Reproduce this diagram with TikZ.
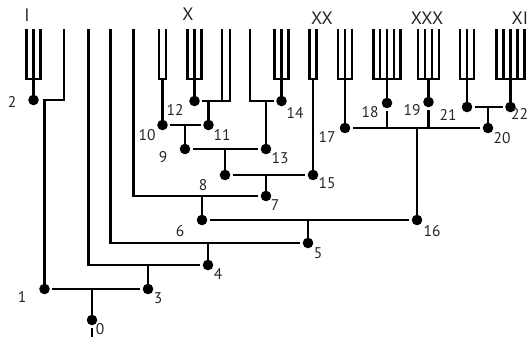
\documentclass[tikz,border=0pt]{standalone}
\usepackage{fontspec}
\setmainfont{PT Sans}
\newcommand{\mycomb}[4]{% #1 dot, #2 left prong x, #3 right prong x, #4 inner prongs
  \draw (#1.center) -- (#1.center |- 0,79);
  \draw[prong] (#2,29) -- (#2,79) -- (#3,79) -- (#3,29);
  \foreach \px in {#4} {\draw[prong] (\px,79) -- (\px,29);}
}
\begin{document}
\begin{tikzpicture}[x=1pt,y=-1pt,line width=2.9pt,
  prong/.style={line width=2.3pt},
  dot/.style={circle,fill=black,inner sep=0pt,minimum size=10.6pt,outer sep=2.6pt},
  lab/.style={font=\fontsize{15.5}{18}\selectfont,text=black!85,inner sep=0pt},
  rom/.style={font=\fontsize{18}{20}\selectfont,text=black!85,inner sep=0pt}]
\useasboundingbox (0,0) rectangle (530,340);
% dots
\node[dot] (n0) at (92,320) {};
\node[dot] (n1) at (44.5,289) {};
\node[dot] (n2) at (33.5,100) {};
\node[dot] (n3) at (148,289) {};
\node[dot] (n4) at (208,265) {};
\node[dot] (n5) at (308,243) {};
\node[dot] (n6) at (202,220) {};
\node[dot] (n7) at (266,196) {};
\node[dot] (n8) at (225,175) {};
\node[dot] (n9) at (185,149) {};
\node[dot] (n10) at (162.5,125) {};
\node[dot] (n11) at (208.5,125) {};
\node[dot] (n12) at (194.5,101) {};
\node[dot] (n13) at (266,149) {};
\node[dot] (n14) at (281.5,101) {};
\node[dot] (n15) at (313,175) {};
\node[dot] (n16) at (417,220) {};
\node[dot] (n17) at (345,128) {};
\node[dot] (n18) at (387,103) {};
\node[dot] (n19) at (428.5,102) {};
\node[dot] (n20) at (488,128) {};
\node[dot] (n21) at (467,107) {};
\node[dot] (n22) at (510.5,107) {};
% combs
\mycomb{n2}{26.5}{40.5}{33.5}
\mycomb{n10}{159}{166}{}
\mycomb{n12}{187.5}{201.5}{194.5}
\mycomb{n14}{274.5}{288.5}{281.5}
\mycomb{n15}{309.5}{316.5}{}
\mycomb{n17}{338}{352}{345}
\mycomb{n18}{373.4}{400.6}{380.2,387,393.8}
\mycomb{n19}{418}{439}{425,432}
\mycomb{n21}{460}{474}{467}
\mycomb{n22}{496.5}{524.5}{503.5,510.5,517.5}
% tree
\draw (92,327.5) -- (92,337);
\draw (n0.center) -- (n0.center |- n1);
\draw (n1) -- (n3);
\draw (n1.center) -- (44.5,100) -- (64,100) -- (64,29);
\draw (n3.center) -- (n3.center |- n4);
\draw (88.5,29) -- (88.5,265) -- (n4);
\draw (n4.center) -- (n4.center |- n5);
\draw (110.5,29) -- (110.5,243) -- (n5);
\draw (n5.center) -- (n5.center |- n6);
\draw (n6) -- (n16);
\draw (n6.center) -- (n6.center |- n7);
\draw (133.5,29) -- (133.5,196) -- (n7);
\draw (n7.center) -- (n7.center |- n8);
\draw (n8) -- (n15);
\draw (n8.center) -- (n8.center |- n9);
\draw (n9) -- (n13);
\draw (n9.center) -- (n9.center |- n10);
\draw (n10) -- (n11);
\draw (n11.center) -- (n11.center |- n12);
\draw (n12) -- (230,101) -- (230,29);
\draw (222,101) -- (222,29);
\draw (n13.center) -- (n13.center |- n14);
\draw (250,29) -- (250,101) -- (n14);
\draw (n16.center) -- (n16.center |- n17);
\draw (n17) -- (n20);
\draw (n18) -- (n18 |- n17);
\draw (n19) -- (n19 |- n17);
\draw (n20.center) -- (n20.center |- n21);
\draw (n21) -- (n22);
% labels
\node[lab] (l0) at (100,329) {0};
\node[lab] (l1) at (22,297) {1};
\node[lab] (l2) at (12,102) {2};
\node[lab] (l3) at (158,298) {3};
\node[lab] (l4) at (218,274) {4};
\node[lab] (l5) at (318,253) {5};
\node[lab] (l6) at (180,231) {6};
\node[lab] (l7) at (275,205) {7};
\node[lab] (l8) at (203,185) {8};
\node[lab] (l9) at (163,157) {9};
\node[lab] (l10) at (147,135) {10};
\node[lab] (l11) at (222,135) {11};
\node[lab] (l12) at (175,110) {12};
\node[lab] (l13) at (280,158) {13};
\node[lab] (l14) at (295,113) {14};
\node[lab] (l15) at (327,183) {15};
\node[lab] (l16) at (432,231) {16};
\node[lab] (l17) at (327,137) {17};
\node[lab] (l18) at (370,112) {18};
\node[lab] (l19) at (412,110) {19};
\node[lab] (l20) at (502,138) {20};
\node[lab] (l21) at (448,115) {21};
\node[lab,anchor=east] (l22) at (529.5,114) {22};
\node[rom] (rI) at (27,15) {I};
\node[rom] (rX) at (188,14.5) {X};
\node[rom] (rXX) at (322,18.5) {XX};
\node[rom] (rXXX) at (427,18.5) {XXX};
\node[rom,anchor=east] (rXI) at (529.5,18.5) {XI};
\end{tikzpicture}
\end{document}
